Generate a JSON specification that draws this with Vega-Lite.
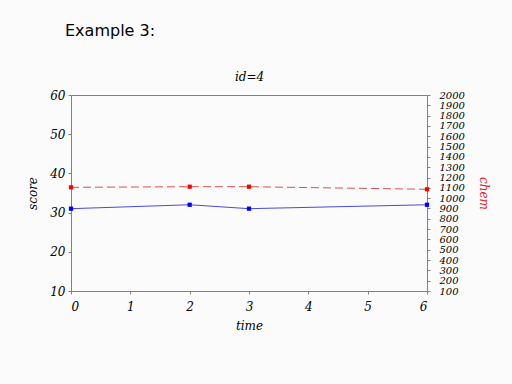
{
  "$schema": "https://vega.github.io/schema/vega-lite/v6.json",
  "width": 356,
  "height": 196,
  "autosize": {"type": "none"},
  "padding": {"left": 71, "top": 95, "right": 85, "bottom": 93},
  "background": "#fbfbfb",
  "title": {
    "text": "Example 3:",
    "anchor": "start",
    "frame": "group",
    "font": "DejaVu Sans",
    "fontSize": 16,
    "fontWeight": "normal",
    "color": "#000000",
    "dx": -6,
    "offset": 31
  },
  "config": {
    "view": {"stroke": "#808080", "strokeWidth": 1},
    "axis": {
      "grid": false,
      "labelFont": "DejaVu Serif",
      "labelFontStyle": "italic",
      "labelFontSize": 12,
      "labelColor": "#000000",
      "labelOverlap": false,
      "titleFont": "DejaVu Serif",
      "titleFontStyle": "italic",
      "titleFontWeight": "normal",
      "titleFontSize": 12,
      "titleColor": "#000000",
      "domainColor": "#808080",
      "tickColor": "#808080",
      "tickSize": 3
    }
  },
  "data": {
    "values": [
      {"time": 0, "score": 31.0, "chem": 1105},
      {"time": 2, "score": 32.0, "chem": 1111},
      {"time": 3, "score": 31.0, "chem": 1111},
      {"time": 6, "score": 32.0, "chem": 1086}
    ]
  },
  "layer": [
    {
      "mark": {"type": "line", "color": "#4a4ad8", "strokeWidth": 1, "point": {"filled": true, "shape": "square", "size": 18, "color": "#0000ff", "opacity": 1}},
      "encoding": {
        "x": {
          "field": "time",
          "type": "quantitative",
          "scale": {"domain": [0, 6], "nice": false},
          "axis": {"values": [0, 1, 2, 3, 4, 5, 6], "title": "time", "labelPadding": 7, "titlePadding": 8}
        },
        "y": {
          "field": "score",
          "type": "quantitative",
          "scale": {"domain": [10, 60], "nice": false, "zero": false},
          "axis": {"values": [10, 20, 30, 40, 50, 60], "title": "score", "labelPadding": 3, "titlePadding": 10}
        }
      }
    },
    {
      "mark": {"type": "line", "color": "#d85050", "strokeWidth": 1, "strokeDash": [8, 4], "point": {"filled": true, "shape": "square", "size": 18, "color": "#ff0000", "opacity": 1, "strokeDash": [1, 0]}},
      "encoding": {
        "x": {
          "field": "time",
          "type": "quantitative",
          "scale": {"domain": [0, 6], "nice": false},
          "axis": {"orient": "top", "title": "id=4", "titleFontStyle": "italic", "labels": false, "ticks": false, "domain": false, "titlePadding": 12}
        },
        "y": {
          "field": "chem",
          "type": "quantitative",
          "scale": {"domain": [100, 2000], "nice": false, "zero": false},
          "axis": {
            "orient": "right",
            "values": [100, 200, 300, 400, 500, 600, 700, 800, 900, 1000, 1100, 1200, 1300, 1400, 1500, 1600, 1700, 1800, 1900, 2000],
            "format": "d",
            "title": "chem",
            "titleColor": "#e02020",
            "labelFontSize": 10,
            "labelPadding": 9,
            "titlePadding": 12
          }
        }
      }
    }
  ],
  "resolve": {"scale": {"y": "independent"}, "axis": {"x": "independent"}}
}
